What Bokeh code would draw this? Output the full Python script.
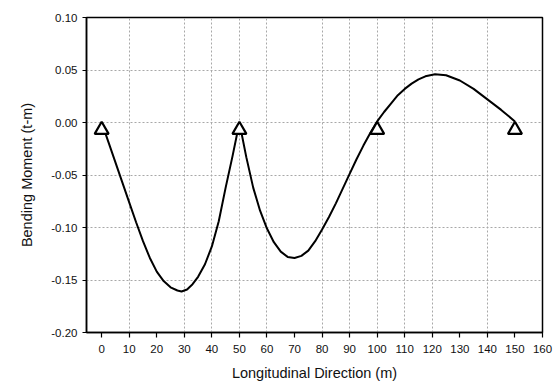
from bokeh.plotting import figure
from bokeh.models import FixedTicker, Range1d, ColumnDataSource, CustomJSTickFormatter
from bokeh.embed import file_html
from bokeh.resources import INLINE

# Bending moment diagram
x_pos = [0, 2.5, 5, 7.5, 10, 12.5, 15, 17.5, 20, 22.5, 25, 27.5, 29, 31, 33, 35, 37.5, 40, 42.5, 45, 47.5, 50,
         52.5, 55, 57.5, 60, 62.5, 65, 67.5, 70, 72.5, 75, 77.5, 80, 82.5, 85, 87.5, 90, 92.5, 95, 97.5, 100,
         102.5, 105, 107.5, 110, 112.5, 115, 117.5, 121, 125, 130, 135, 140, 145, 150]
moment = [0.000, -0.019, -0.038, -0.057, -0.076, -0.095, -0.113, -0.129, -0.142, -0.151, -0.157, -0.160, -0.161, -0.159, -0.154, -0.147, -0.135, -0.118, -0.094, -0.062, -0.032, 0.000,
          -0.033, -0.062, -0.084, -0.101, -0.114, -0.123, -0.128, -0.129, -0.127, -0.122, -0.113, -0.102, -0.090, -0.077, -0.063, -0.049, -0.035, -0.022, -0.010, 0.001,
          0.010, 0.018, 0.026, 0.032, 0.037, 0.041, 0.044, 0.046, 0.045, 0.040, 0.032, 0.022, 0.012, 0.001]
support_x = [0, 50, 100, 150]
support_y = [-0.007, -0.007, -0.007, -0.007]
x_ticks = [0, 10, 20, 30, 40, 50, 60, 70, 80, 90, 100, 110, 120, 130, 140, 150, 160]
x_grid = [10, 30, 40, 50, 60, 80, 90, 100, 110, 120, 140]
y_ticks = [0.10, 0.05, 0.00, -0.05, -0.10, -0.15, -0.20]
y_grid = [0.05, 0.00, -0.05, -0.10, -0.15]

FONT = "Liberation Sans"

p = figure(width=558, height=383, output_backend="svg", toolbar_location=None,
           x_range=Range1d(-5.5, 160), y_range=Range1d(-0.2, 0.1),
           min_border_left=86, min_border_right=16, min_border_top=17, min_border_bottom=51)

p.outline_line_color = "black"
p.outline_line_width = 1.5
p.background_fill_color = "white"
p.border_fill_color = "white"

p.xaxis.ticker = FixedTicker(ticks=x_ticks)
p.yaxis.ticker = FixedTicker(ticks=y_ticks)
p.xgrid.ticker = FixedTicker(ticks=x_grid)
p.ygrid.ticker = FixedTicker(ticks=y_grid)
p.yaxis.formatter = CustomJSTickFormatter(code="return tick.toFixed(2);")

for ax in (p.xaxis, p.yaxis):
    ax.axis_line_color = "black"
    ax.axis_line_width = 1.5
    ax.major_tick_line_color = "black"
    ax.major_tick_line_width = 1.2
    ax.major_tick_out = 5
    ax.major_tick_in = 0
    ax.minor_tick_line_color = None
    ax.major_label_text_font = FONT
    ax.major_label_text_font_size = "11.5px"
    ax.major_label_text_color = "#111111"
    ax.axis_label_text_font = FONT
    ax.axis_label_text_font_size = "14.5px"
    ax.axis_label_text_font_style = "normal"
    ax.axis_label_text_color = "#111111"

p.xaxis.axis_label = "Longitudinal Direction (m)"
p.yaxis.axis_label = "Bending Moment (t-m)"
p.xaxis.major_label_standoff = 7
p.xaxis.axis_label_standoff = 9
p.yaxis.major_tick_out = 4
p.yaxis.major_label_standoff = 5
p.yaxis.axis_label_standoff = 13

for g in (p.xgrid, p.ygrid):
    g.grid_line_color = "#a8a8a8"
    g.grid_line_dash = "2 2"
    g.grid_line_width = 1

src = ColumnDataSource(dict(x=x_pos, y=moment))
p.line("x", "y", source=src, line_color="black", line_width=2)
p.scatter(support_x, support_y, marker="triangle", size=14, fill_color="white",
          line_color="black", line_width=2.2)

open("out.html", "w").write(file_html(p, INLINE))
